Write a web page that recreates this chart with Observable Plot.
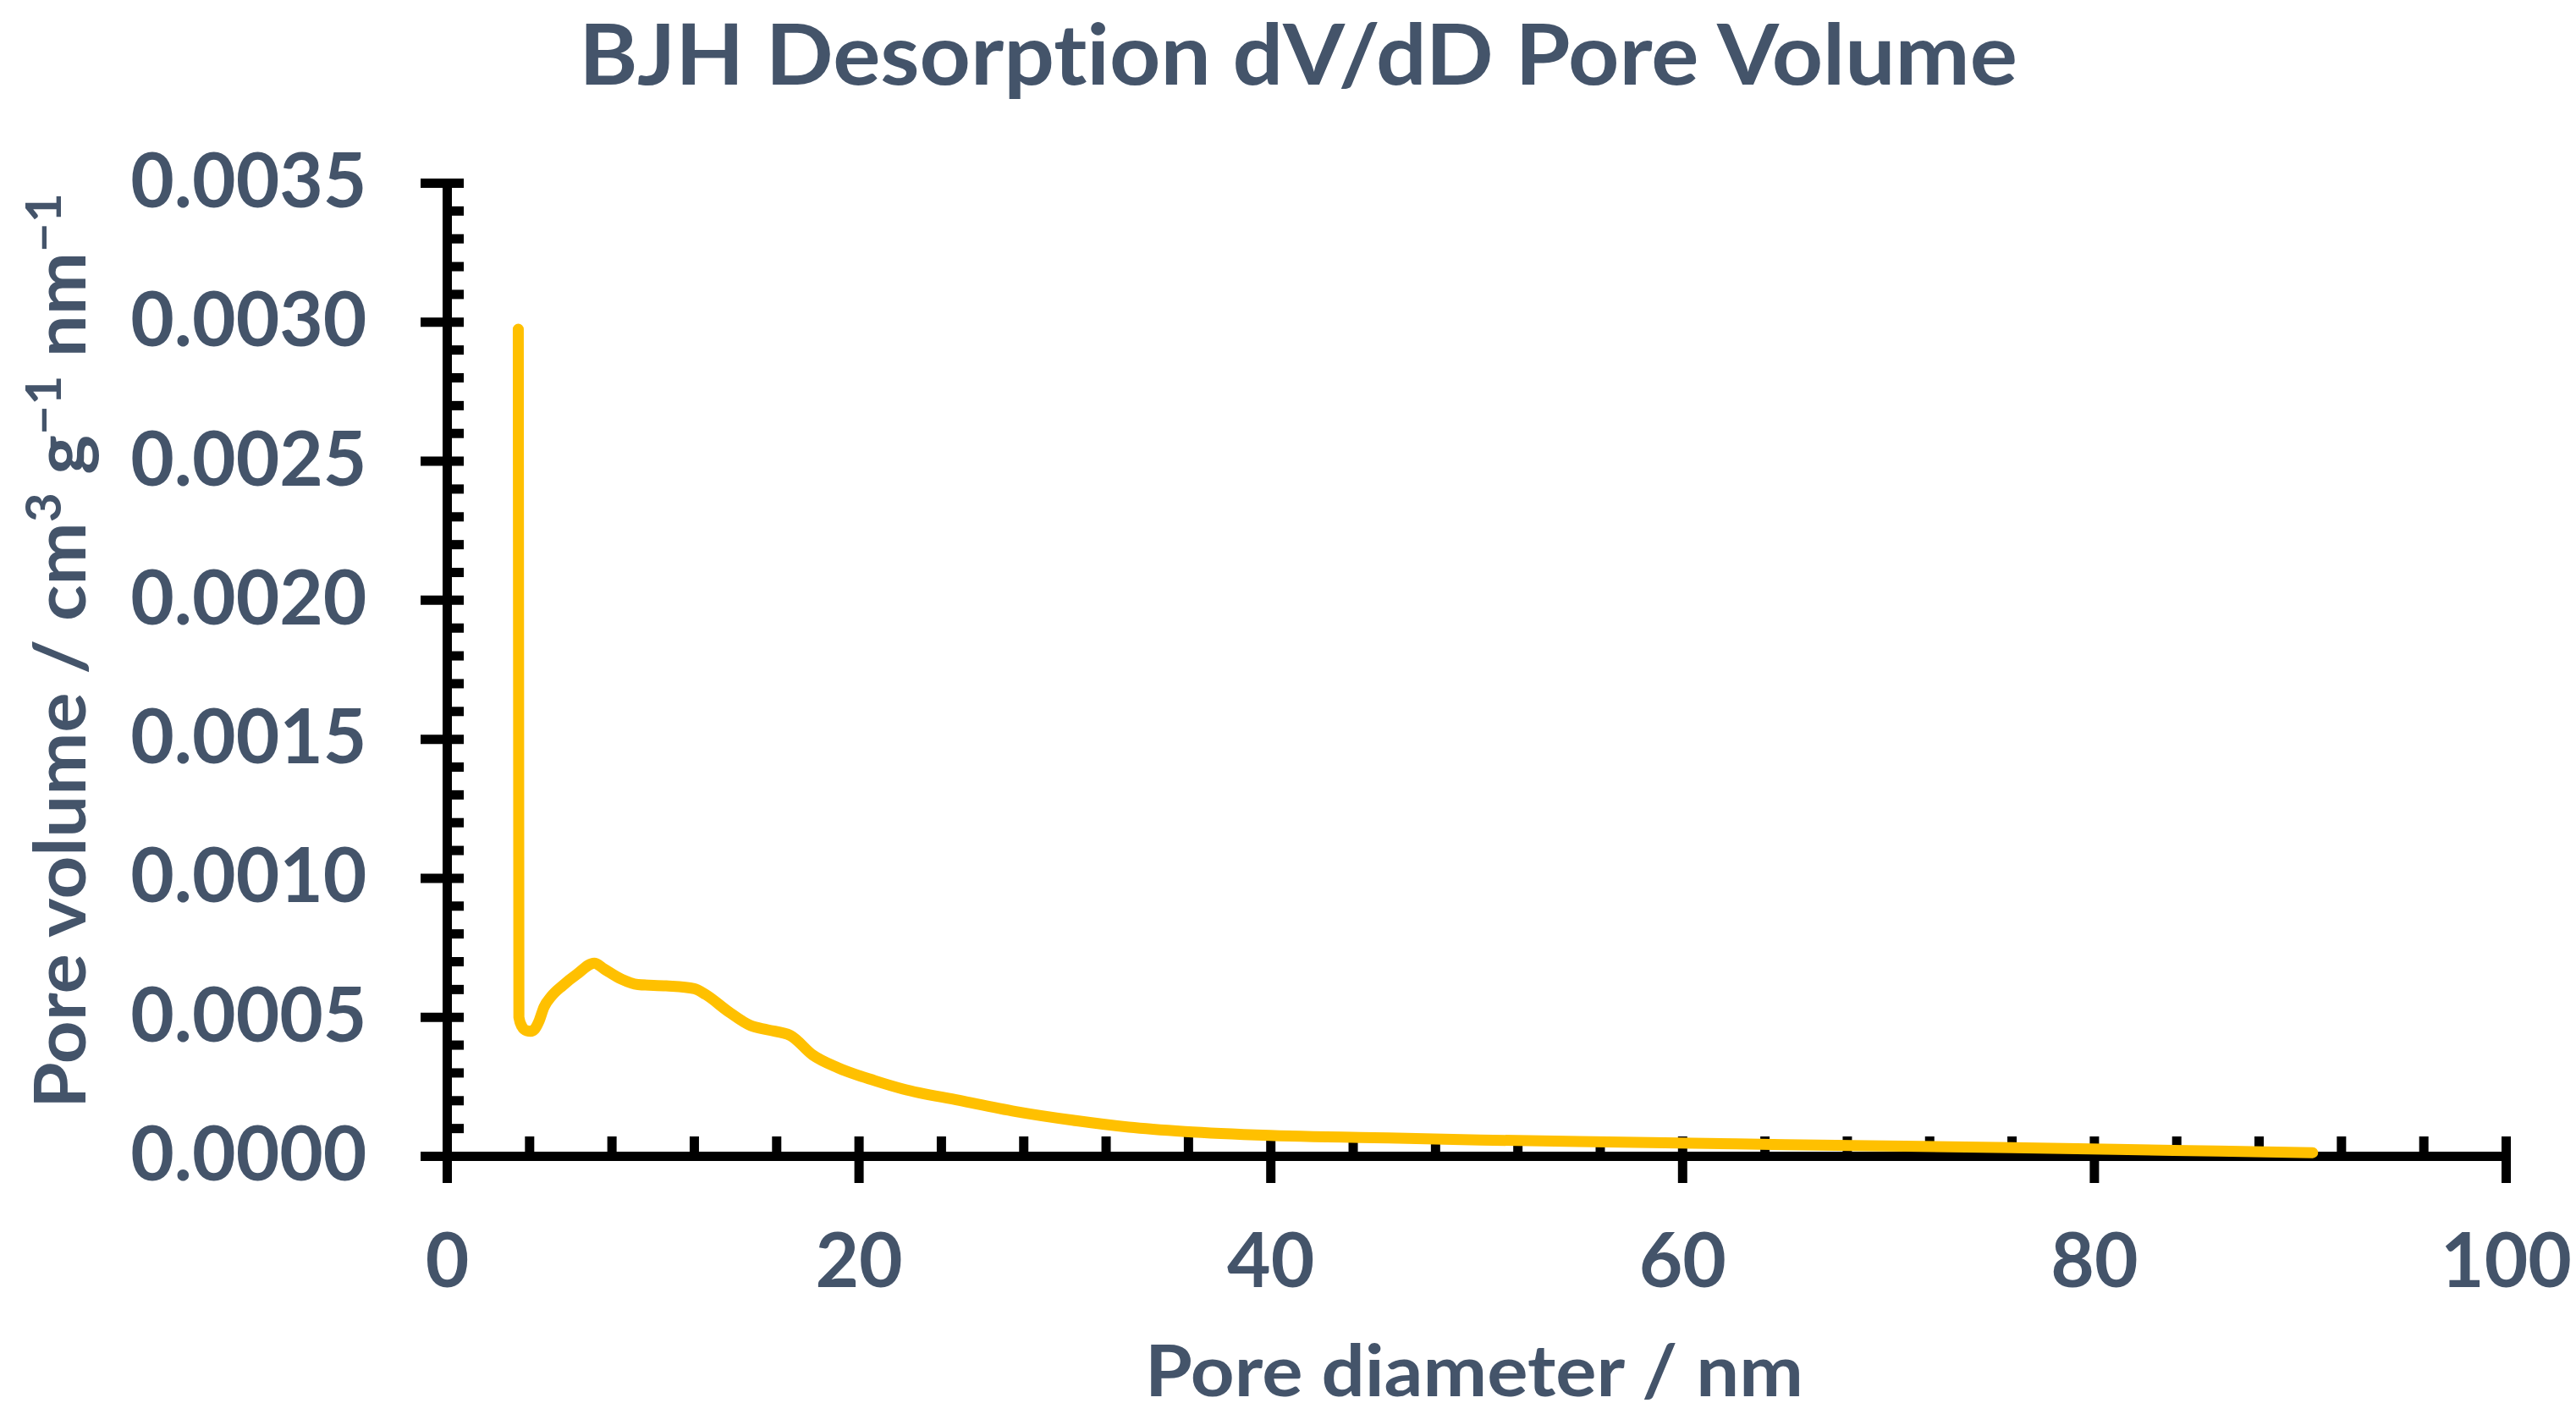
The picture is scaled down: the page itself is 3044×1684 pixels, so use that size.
<!DOCTYPE html>
<html>
<head>
<meta charset="utf-8">
<script src="https://cdn.jsdelivr.net/npm/d3@7"></script>
<script src="https://cdn.jsdelivr.net/npm/@observablehq/plot@0.6"></script>
<style>
  html, body { margin: 0; padding: 0; background: #ffffff; }
  svg text { font-family: "Lato", "Open Sans", "DejaVu Sans", sans-serif; font-variant-ligatures: none; font-feature-settings: "liga" 0, "clig" 0; }
</style>
</head>
<body>
<div id="chart"></div>
<script>
// ---- data ----
const poreDiameter = [3.45, 3.48, 3.62, 3.85, 4.05, 4.25, 4.45, 4.70, 5.05, 5.60, 6.30, 7.14, 7.62, 8.44, 9.26, 10.63, 12.0, 12.55, 13.65, 14.74, 15.56, 16.66, 17.76, 18.99, 20.77, 22.14, 24.88, 27.62, 30.36, 33.1, 35.84, 39.95, 45.0, 50.2, 55.0, 60.5, 65.0, 70.8, 76.0, 81.05, 86.0, 90.6];
const poreVolume = [0.002975, 0.00050, 0.000468, 0.000452, 0.000450, 0.000458, 0.000485, 0.000537, 0.000575, 0.000614, 0.000655, 0.000695, 0.000674, 0.000638, 0.000618, 0.000613, 0.000603, 0.000582, 0.000521, 0.000470, 0.000455, 0.000435, 0.000364, 0.000318, 0.000272, 0.000242, 0.000201, 0.000161, 0.000130, 0.000105, 0.0000893, 0.0000755, 0.000067, 0.0000589, 0.000053, 0.0000475, 0.000042, 0.0000366, 0.000031, 0.000025, 0.000019, 0.0000131];

const xMajorTicks = [0, 20, 40, 60, 80, 100];
const xMinorTicks = [4, 8, 12, 16, 24, 28, 32, 36, 44, 48, 52, 56, 64, 68, 72, 76, 84, 88, 92, 96];
const yMajorTicks = [0, 0.0005, 0.0010, 0.0015, 0.0020, 0.0025, 0.0030, 0.0035];
const yMinorTicks = [0.0001, 0.0002, 0.0003, 0.0004, 0.0006, 0.0007, 0.0008, 0.0009, 0.0011, 0.0012, 0.0013, 0.0014, 0.0016, 0.0017, 0.0018, 0.0019, 0.0021, 0.0022, 0.0023, 0.0024, 0.0026, 0.0027, 0.0028, 0.0029, 0.0031, 0.0032, 0.0033, 0.0034];

const chartTitle = "BJH Desorption dV/dD Pore Volume";
const xTitle = "Pore diameter / nm";
const yTitleParts = [["Pore volume / cm", false], ["3", true], [" g", false], ["\u22121", true], [" nm", false], ["\u22121", true]];

const textColor = "#44546A";
const lineColor = "#FFC000";
const fontStack = "Lato, Open Sans, DejaVu Sans, sans-serif";

const data = poreDiameter.map((d, i) => ({d, v: poreVolume[i]}));

const chart = Plot.plot({
  width: 3044,
  height: 1684,
  marginLeft: 528,
  marginRight: 83,
  marginTop: 216,
  marginBottom: 318,
  style: {background: "#ffffff", fontFamily: fontStack, overflow: "visible"},
  x: {domain: [0, 100], axis: null},
  y: {domain: [0, 0.0035], axis: null},
  marks: [
    // axis lines
    Plot.ruleX([0], {y1: 0, y2: 0.0035, stroke: "#000", strokeWidth: 11}),
    Plot.ruleY([0], {x1: 0, x2: 100, stroke: "#000", strokeWidth: 11}),
    // y ticks (major cross the axis, minor inside)
    Plot.axisY({ticks: yMajorTicks, tickSize: 51, dx: 20, stroke: "#000", strokeWidth: 11, fill: "none", label: null}),
    Plot.axisY({ticks: yMinorTicks, tickSize: 20, dx: 20, stroke: "#000", strokeWidth: 11, fill: "none", label: null}),
    // x ticks
    Plot.axisX({ticks: xMajorTicks, tickSize: 55, dy: -23, stroke: "#000", strokeWidth: 11, fill: "none", label: null}),
    Plot.axisX({ticks: xMinorTicks, tickSize: 23, dy: -23, stroke: "#000", strokeWidth: 11, fill: "none", label: null}),
    // tick labels
    Plot.axisY({ticks: yMajorTicks, tickSize: 0, tickPadding: 95, stroke: "none", tickFormat: d => d.toFixed(4),
      fontSize: 89, fontWeight: "bold", fill: textColor, label: null}),
    Plot.axisX({ticks: xMajorTicks, tickSize: 0, tickPadding: 91, stroke: "none", tickFormat: d => String(d),
      fontSize: 89, fontWeight: "bold", fill: textColor, label: null}),
    // the curve
    Plot.line(data, {x: "d", y: "v", stroke: lineColor, strokeWidth: 13, strokeLinecap: "round", strokeLinejoin: "round", curve: "monotone-x"})
  ]
});

document.getElementById("chart").appendChild(chart);

const svg = d3.select(chart);

function addTitle(parts, size, cx, cy, targetWidth, rotate, supSize, supShift) {
  const t = svg.append("text")
    .attr("text-anchor", "middle")
    .attr("fill", textColor)
    .attr("font-weight", "bold")
    .attr("font-size", size)
    .attr("font-family", fontStack)
    .style("font-variant-ligatures", "none");
  let raised = false;
  parts.forEach(([s, sup]) => {
    const sp = t.append("tspan").text(s);
    if (sup && !raised) { sp.attr("dy", -supShift).attr("font-size", supSize); raised = true; }
    else if (sup) { sp.attr("font-size", supSize); }
    else if (!sup && raised) { sp.attr("dy", supShift); raised = false; }
  });
  const len = t.node().getComputedTextLength();
  const k = targetWidth / len;
  t.attr("transform", `translate(${cx},${cy})${rotate ? " rotate(-90)" : ""} scale(${k},1)`);
  return t;
}

addTitle([[chartTitle, false]], 100, 1534, 100, 1700, false, 0, 0);
addTitle([[xTitle, false]], 85, 1742, 1650, 778, false, 0, 0);
addTitle(yTitleParts, 85, 101, 769, 1082, true, 58, 29);
</script>
</body>
</html>
